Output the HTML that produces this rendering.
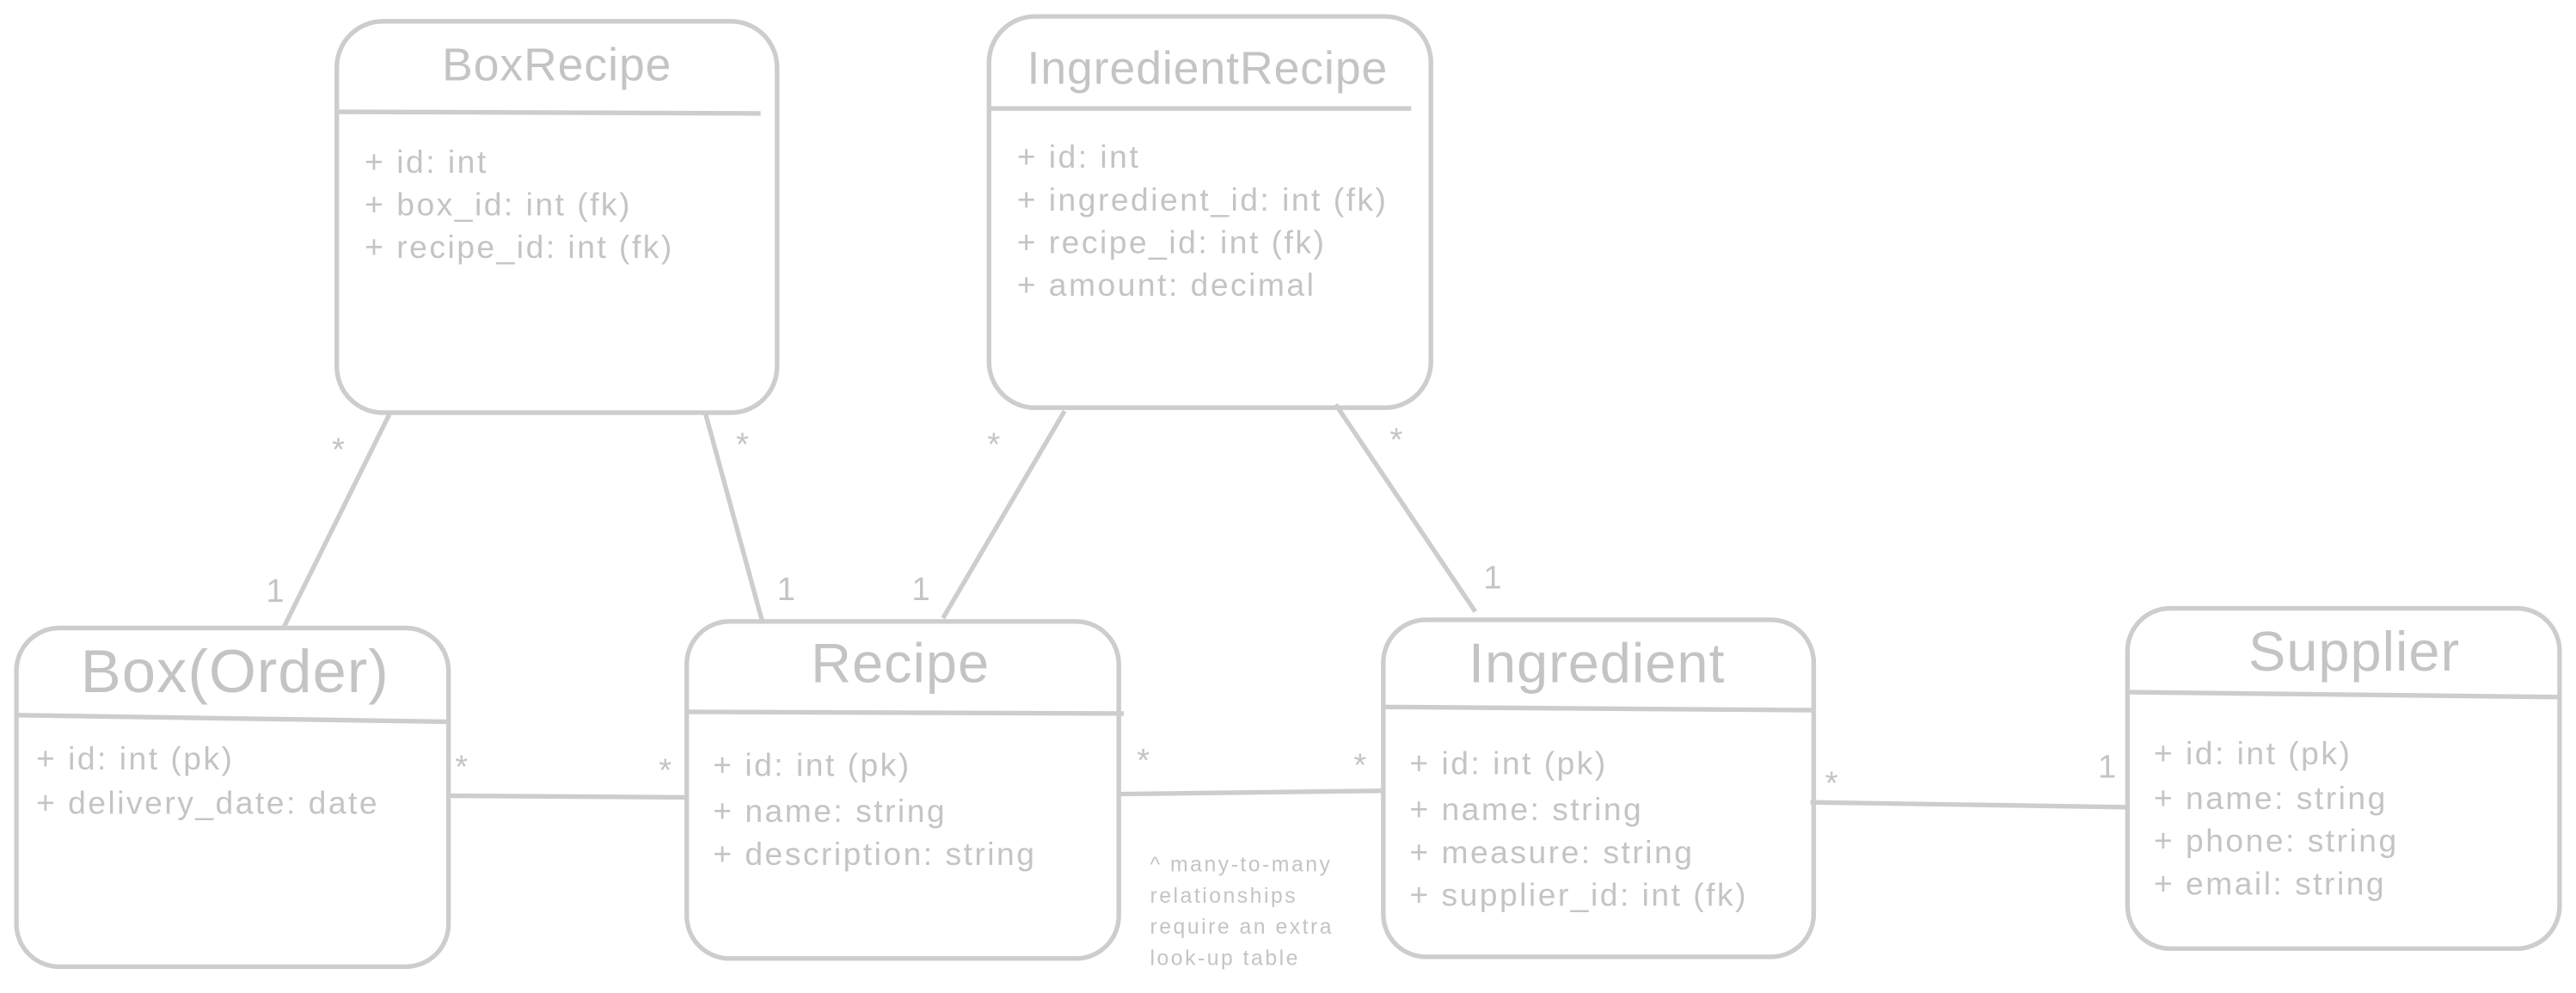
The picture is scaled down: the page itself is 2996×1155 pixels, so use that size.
<!DOCTYPE html>
<html><head><meta charset="utf-8"><style>
html,body{margin:0;padding:0;background:#fff;}
svg{display:block;}
text{font-family:"Liberation Sans",sans-serif;fill:#c4c4c4;}
.t{font-size:28px;text-anchor:middle;letter-spacing:0.5px;}
.a{font-size:19.5px;letter-spacing:1.3px;}
.m{font-size:20px;}
.n{font-size:13px;letter-spacing:1.3px;}
rect,line{stroke:#cdcdcd;stroke-width:2.8;fill:none;}
</style></head><body>
<svg width="2996" height="1155" viewBox="0 0 1568 604" preserveAspectRatio="none">
<rect x="205" y="13" width="268" height="238" rx="28"/>
<line x1="205" y1="68" x2="463" y2="69"/>
<text class="t" x="339" y="49">BoxRecipe</text>
<text class="a" x="222" y="105">+ id: int</text>
<text class="a" x="222" y="131">+ box_id: int (fk)</text>
<text class="a" x="222" y="157">+ recipe_id: int (fk)</text>
<rect x="602" y="10" width="269" height="238" rx="28"/>
<line x1="602" y1="66" x2="859" y2="66"/>
<text class="t" x="735" y="51">IngredientRecipe</text>
<text class="a" x="619" y="102">+ id: int</text>
<text class="a" x="619" y="128">+ ingredient_id: int (fk)</text>
<text class="a" x="619" y="154">+ recipe_id: int (fk)</text>
<text class="a" x="619" y="180">+ amount: decimal</text>
<rect x="10" y="382" width="263" height="206" rx="26"/>
<line x1="10" y1="435" x2="273" y2="439"/>
<text class="t" x="143" y="421" style="font-size:37px">Box(Order)</text>
<text class="a" x="22" y="468">+ id: int (pk)</text>
<text class="a" x="22" y="495">+ delivery_date: date</text>
<rect x="418" y="378" width="263" height="205" rx="26"/>
<line x1="418" y1="433" x2="684" y2="434"/>
<text class="t" x="548" y="415" style="font-size:34px">Recipe</text>
<text class="a" x="434" y="472">+ id: int (pk)</text>
<text class="a" x="434" y="500">+ name: string</text>
<text class="a" x="434" y="526">+ description: string</text>
<rect x="842" y="377" width="262" height="205" rx="26"/>
<line x1="842" y1="430" x2="1104" y2="432"/>
<text class="t" x="972" y="415" style="font-size:34px">Ingredient</text>
<text class="a" x="858" y="471">+ id: int (pk)</text>
<text class="a" x="858" y="499">+ name: string</text>
<text class="a" x="858" y="525">+ measure: string</text>
<text class="a" x="858" y="551">+ supplier_id: int (fk)</text>
<rect x="1295" y="370" width="263" height="207" rx="26"/>
<line x1="1295" y1="421" x2="1558" y2="424"/>
<text class="t" x="1433" y="408" style="font-size:34px">Supplier</text>
<text class="a" x="1311" y="465">+ id: int (pk)</text>
<text class="a" x="1311" y="492">+ name: string</text>
<text class="a" x="1311" y="518">+ phone: string</text>
<text class="a" x="1311" y="544">+ email: string</text>
<line x1="237" y1="252" x2="173" y2="381"/>
<line x1="429" y1="250" x2="464" y2="378"/>
<line x1="648" y1="250" x2="574" y2="376"/>
<line x1="813" y1="246" x2="898" y2="372"/>
<line x1="273" y1="484" x2="418" y2="485"/>
<line x1="681" y1="483" x2="842" y2="481"/>
<line x1="1102" y1="488" x2="1295" y2="491"/>
<text class="m" x="202" y="280">*</text>
<text class="m" x="162" y="366">1</text>
<text class="m" x="448" y="277">*</text>
<text class="m" x="473" y="365">1</text>
<text class="m" x="601" y="277">*</text>
<text class="m" x="555" y="365">1</text>
<text class="m" x="846" y="274">*</text>
<text class="m" x="903" y="358">1</text>
<text class="m" x="277" y="473">*</text>
<text class="m" x="401" y="475">*</text>
<text class="m" x="692" y="469">*</text>
<text class="m" x="824" y="472">*</text>
<text class="m" x="1111" y="483">*</text>
<text class="m" x="1277" y="473">1</text>
<text class="n" x="700" y="530">^ many-to-many</text>
<text class="n" x="700" y="549">relationships</text>
<text class="n" x="700" y="568">require an extra</text>
<text class="n" x="700" y="587">look-up table</text>
</svg>
</body></html>
